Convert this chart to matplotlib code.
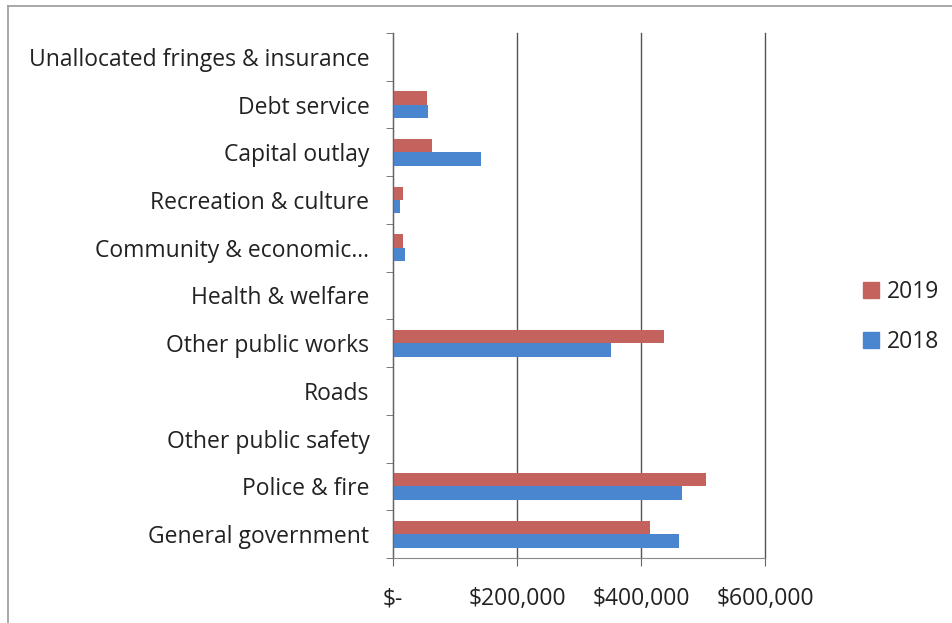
import matplotlib
matplotlib.use("Agg")
import matplotlib.pyplot as plt
from matplotlib.ticker import FuncFormatter, FixedLocator
from matplotlib.lines import Line2D
import numpy as np

categories = [
    "General government",
    "Police & fire",
    "Other public safety",
    "Roads",
    "Other public works",
    "Health & welfare",
    "Community & economic\u2026",
    "Recreation & culture",
    "Capital outlay",
    "Debt service",
    "Unallocated fringes & insurance",
]
values_2019 = [414000, 505000, 0, 0, 437000, 0, 16000, 16000, 63000, 55000, 0]
values_2018 = [461000, 466000, 0, 0, 352000, 0, 19000, 11000, 142000, 56000, 0]
x_ticks = [0, 200000, 400000, 600000]

color_2019 = "#C4625E"
color_2018 = "#4A86CF"

plt.rcParams["font.family"] = ["Open Sans", "DejaVu Sans"]

W, H = 953, 623
fig = plt.figure(figsize=(W / 100, H / 100), dpi=100)
ax = fig.add_axes([393 / W, 1 - 558 / H, (765 - 393) / W, (558 - 33) / H])

y = np.arange(len(categories))
bh = 0.28
ax.barh(y - bh / 2, values_2018, height=bh, color=color_2018, label="2018")
ax.barh(y + bh / 2, values_2019, height=bh, color=color_2019, label="2019")

ax.set_xlim(0, 600000)
ax.set_ylim(-0.5, len(categories) - 0.5)
ax.xaxis.set_major_locator(FixedLocator(x_ticks))
ax.xaxis.set_major_formatter(FuncFormatter(lambda v, p: "$-" if v == 0 else f"${v:,.0f}"))
ax.set_yticks(y)
ax.set_yticklabels(categories)
ax.set_yticks(np.arange(-0.5, len(categories)), minor=True)

ax.grid(axis="x", color="#555555", linewidth=1.0)
for gl in ax.get_xgridlines():
    gl.set_clip_on(False)
ax.set_axisbelow(True)
for s in ["top", "right"]:
    ax.spines[s].set_visible(False)
ax.spines["left"].set_color("#666666")
ax.spines["bottom"].set_color("#888888")

fs = 16.5
ax.tick_params(axis="y", which="major", length=0, pad=17, labelsize=fs, labelcolor="#222222")
ax.tick_params(axis="y", which="minor", length=5, color="#666666")
ax.tick_params(axis="x", which="major", length=6, color="#666666", pad=15, labelsize=fs, labelcolor="#222222")

handles = [
    plt.Rectangle((0, 0), 1, 1, color=color_2019),
    plt.Rectangle((0, 0), 1, 1, color=color_2018),
]
fig.legend(handles, ["2019", "2018"], loc="center left",
           bbox_to_anchor=(842 / W, 1 - 317 / H), frameon=False,
           fontsize=fs, handlelength=0.7, handleheight=0.7,
           handletextpad=0.35, labelspacing=1.1, labelcolor="#222222")

# chart frame
fig.add_artist(Line2D([8 / W, 8 / W], [0, 1 - 6 / H], color="#999999", linewidth=1.2))
fig.add_artist(Line2D([8 / W, 1], [1 - 6 / H, 1 - 6 / H], color="#999999", linewidth=1.2))

fig.savefig("out.png", dpi=100, facecolor="white")
